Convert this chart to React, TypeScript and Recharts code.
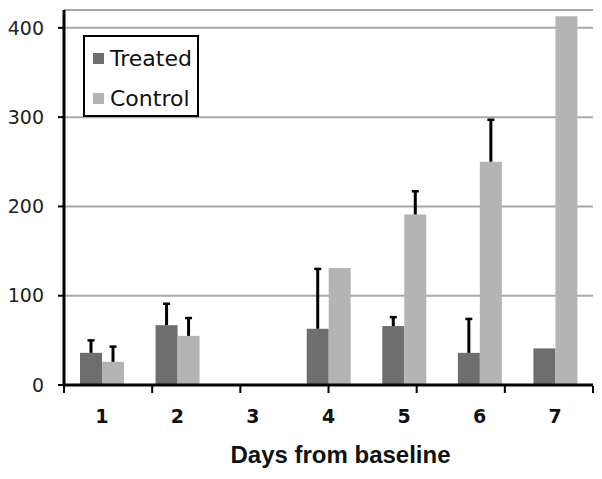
import React from "react";
import {
  BarChart,
  Bar,
  XAxis,
  YAxis,
  CartesianGrid,
  ReferenceLine,
  Legend,
  Label,
} from "recharts";

const days = ["1", "2", "3", "4", "5", "6", "7"];
const treated = [36, 67, null, 63, 66, 36, 41];
const treatedErr = [14, 24, null, 67, 10, 38, null];
const control = [26, 55, null, 131, 191, 250, 413];
const controlErr = [17, 20, null, null, 26, 47, null];
const seriesNames = ["Treated", "Control"];
const yTicks = [0, 100, 200, 300, 400];
const edgeTicks = [0, 1, 2, 3, 4, 5, 6, 7];

const data = days.map((d, i) => ({
  day: d,
  treated: treated[i],
  treatedErr: treatedErr[i],
  control: control[i],
  controlErr: controlErr[i],
}));

const GRID = "#a8a8a8";
const TREATED = "#6e6e6e";
const CONTROL = "#b4b4b4";

// bar rect plus a one-sided (upward) error whisker
function withError(valueKey: string, errKey: string) {
  return (props: any) => {
    const { x, y, width, height, fill, payload } = props;
    const v = payload[valueKey];
    if (v == null || !height) return <g />;
    const err = payload[errKey];
    const cx = x + width / 2;
    let whisker = null;
    if (err) {
      const top = y - (err * height) / v;
      whisker = (
        <g stroke="#000">
          <line x1={cx} x2={cx} y1={y} y2={top} strokeWidth={3} />
          <line x1={cx - 3.5} x2={cx + 3.5} y1={top} y2={top} strokeWidth={2.5} />
        </g>
      );
    }
    return (
      <g>
        <rect x={x} y={y} width={width} height={height} fill={fill} />
        {whisker}
      </g>
    );
  };
}

function LegendBox(props: any) {
  const items = [...(props.payload || [])].sort(
    (a: any, b: any) => seriesNames.indexOf(a.value) - seriesNames.indexOf(b.value)
  );
  return (
    <div
      style={{
        border: "2px solid #000",
        background: "#fff",
        width: 112,
        height: 78,
        boxSizing: "content-box",
        fontFamily: "DejaVu Sans, Verdana, sans-serif",
        fontSize: 22,
        color: "#111",
      }}
    >
      {items.map((it: any, i: number) => (
        <div
          key={i}
          style={{
            display: "flex",
            alignItems: "center",
            height: 40,
            marginTop: i === 0 ? 1 : 0,
          }}
        >
          <span
            style={{
              display: "inline-block",
              width: 11,
              height: 11,
              background: it.color,
              marginLeft: 8,
              marginRight: 6,
            }}
          />
          <span>{it.value}</span>
        </div>
      ))}
    </div>
  );
}

export default function App() {
  return (
    <div style={{ position: "absolute", left: 0, top: 0, background: "#fff" }}>
      <BarChart
        width={602}
        height={479}
        data={data}
        margin={{ top: 10, right: 9, bottom: 92, left: 0 }}
        barGap={0}
        barSize={22}
      >
        <CartesianGrid
          xAxisId="cat"
          vertical={false}
          stroke={GRID}
          strokeWidth={2}
        />
        <XAxis
          xAxisId="cat"
          dataKey="day"
          height={1}
          axisLine={{ stroke: "#000", strokeWidth: 3 }}
          tickLine={false}
          tickSize={0}
          tickMargin={25}
          tick={{
            fill: "#111",
            fontSize: 19,
            fontWeight: "bold",
            fontFamily: "DejaVu Sans, Verdana, sans-serif",
          }}
        >
          <Label
            value="Days from baseline"
            position="bottom"
            offset={60}
            dx={12}
            style={{
              fill: "#111",
              fontSize: 24,
              fontWeight: "bold",
              fontFamily: "Liberation Sans, Arial, sans-serif",
            }}
          />
        </XAxis>
        <XAxis
          xAxisId="edge"
          type="number"
          domain={[0, 7]}
          ticks={edgeTicks}
          allowDataOverflow
          height={1}
          axisLine={false}
          tickLine={{ stroke: "#000", strokeWidth: 2 }}
          tickSize={7}
          tickFormatter={() => ""}
        />
        <YAxis
          width={64}
          domain={[0, 420]}
          ticks={yTicks}
          allowDataOverflow
          axisLine={{ stroke: "#000", strokeWidth: 3 }}
          tickLine={{ stroke: "#000", strokeWidth: 2 }}
          tickSize={6}
          tickMargin={14}
          tick={{
            fill: "#222",
            fontSize: 19,
            fontFamily: "DejaVu Sans, Verdana, sans-serif",
          }}
        />
        <ReferenceLine y={420} xAxisId="cat" stroke={GRID} strokeWidth={2} />
        <ReferenceLine x={7} xAxisId="edge" stroke={GRID} strokeWidth={2} />
        <Legend
          layout="vertical"
          align="center"
          verticalAlign="middle"
          content={<LegendBox />}
          wrapperStyle={{ left: 83, top: 35, width: 116, height: 82 }}
        />
        <Bar
          xAxisId="cat"
          dataKey="treated"
          name="Treated"
          fill={TREATED}
          shape={withError("treated", "treatedErr")}
          isAnimationActive={false}
        />
        <Bar
          xAxisId="cat"
          dataKey="control"
          name="Control"
          fill={CONTROL}
          shape={withError("control", "controlErr")}
          isAnimationActive={false}
        />
      </BarChart>
    </div>
  );
}
